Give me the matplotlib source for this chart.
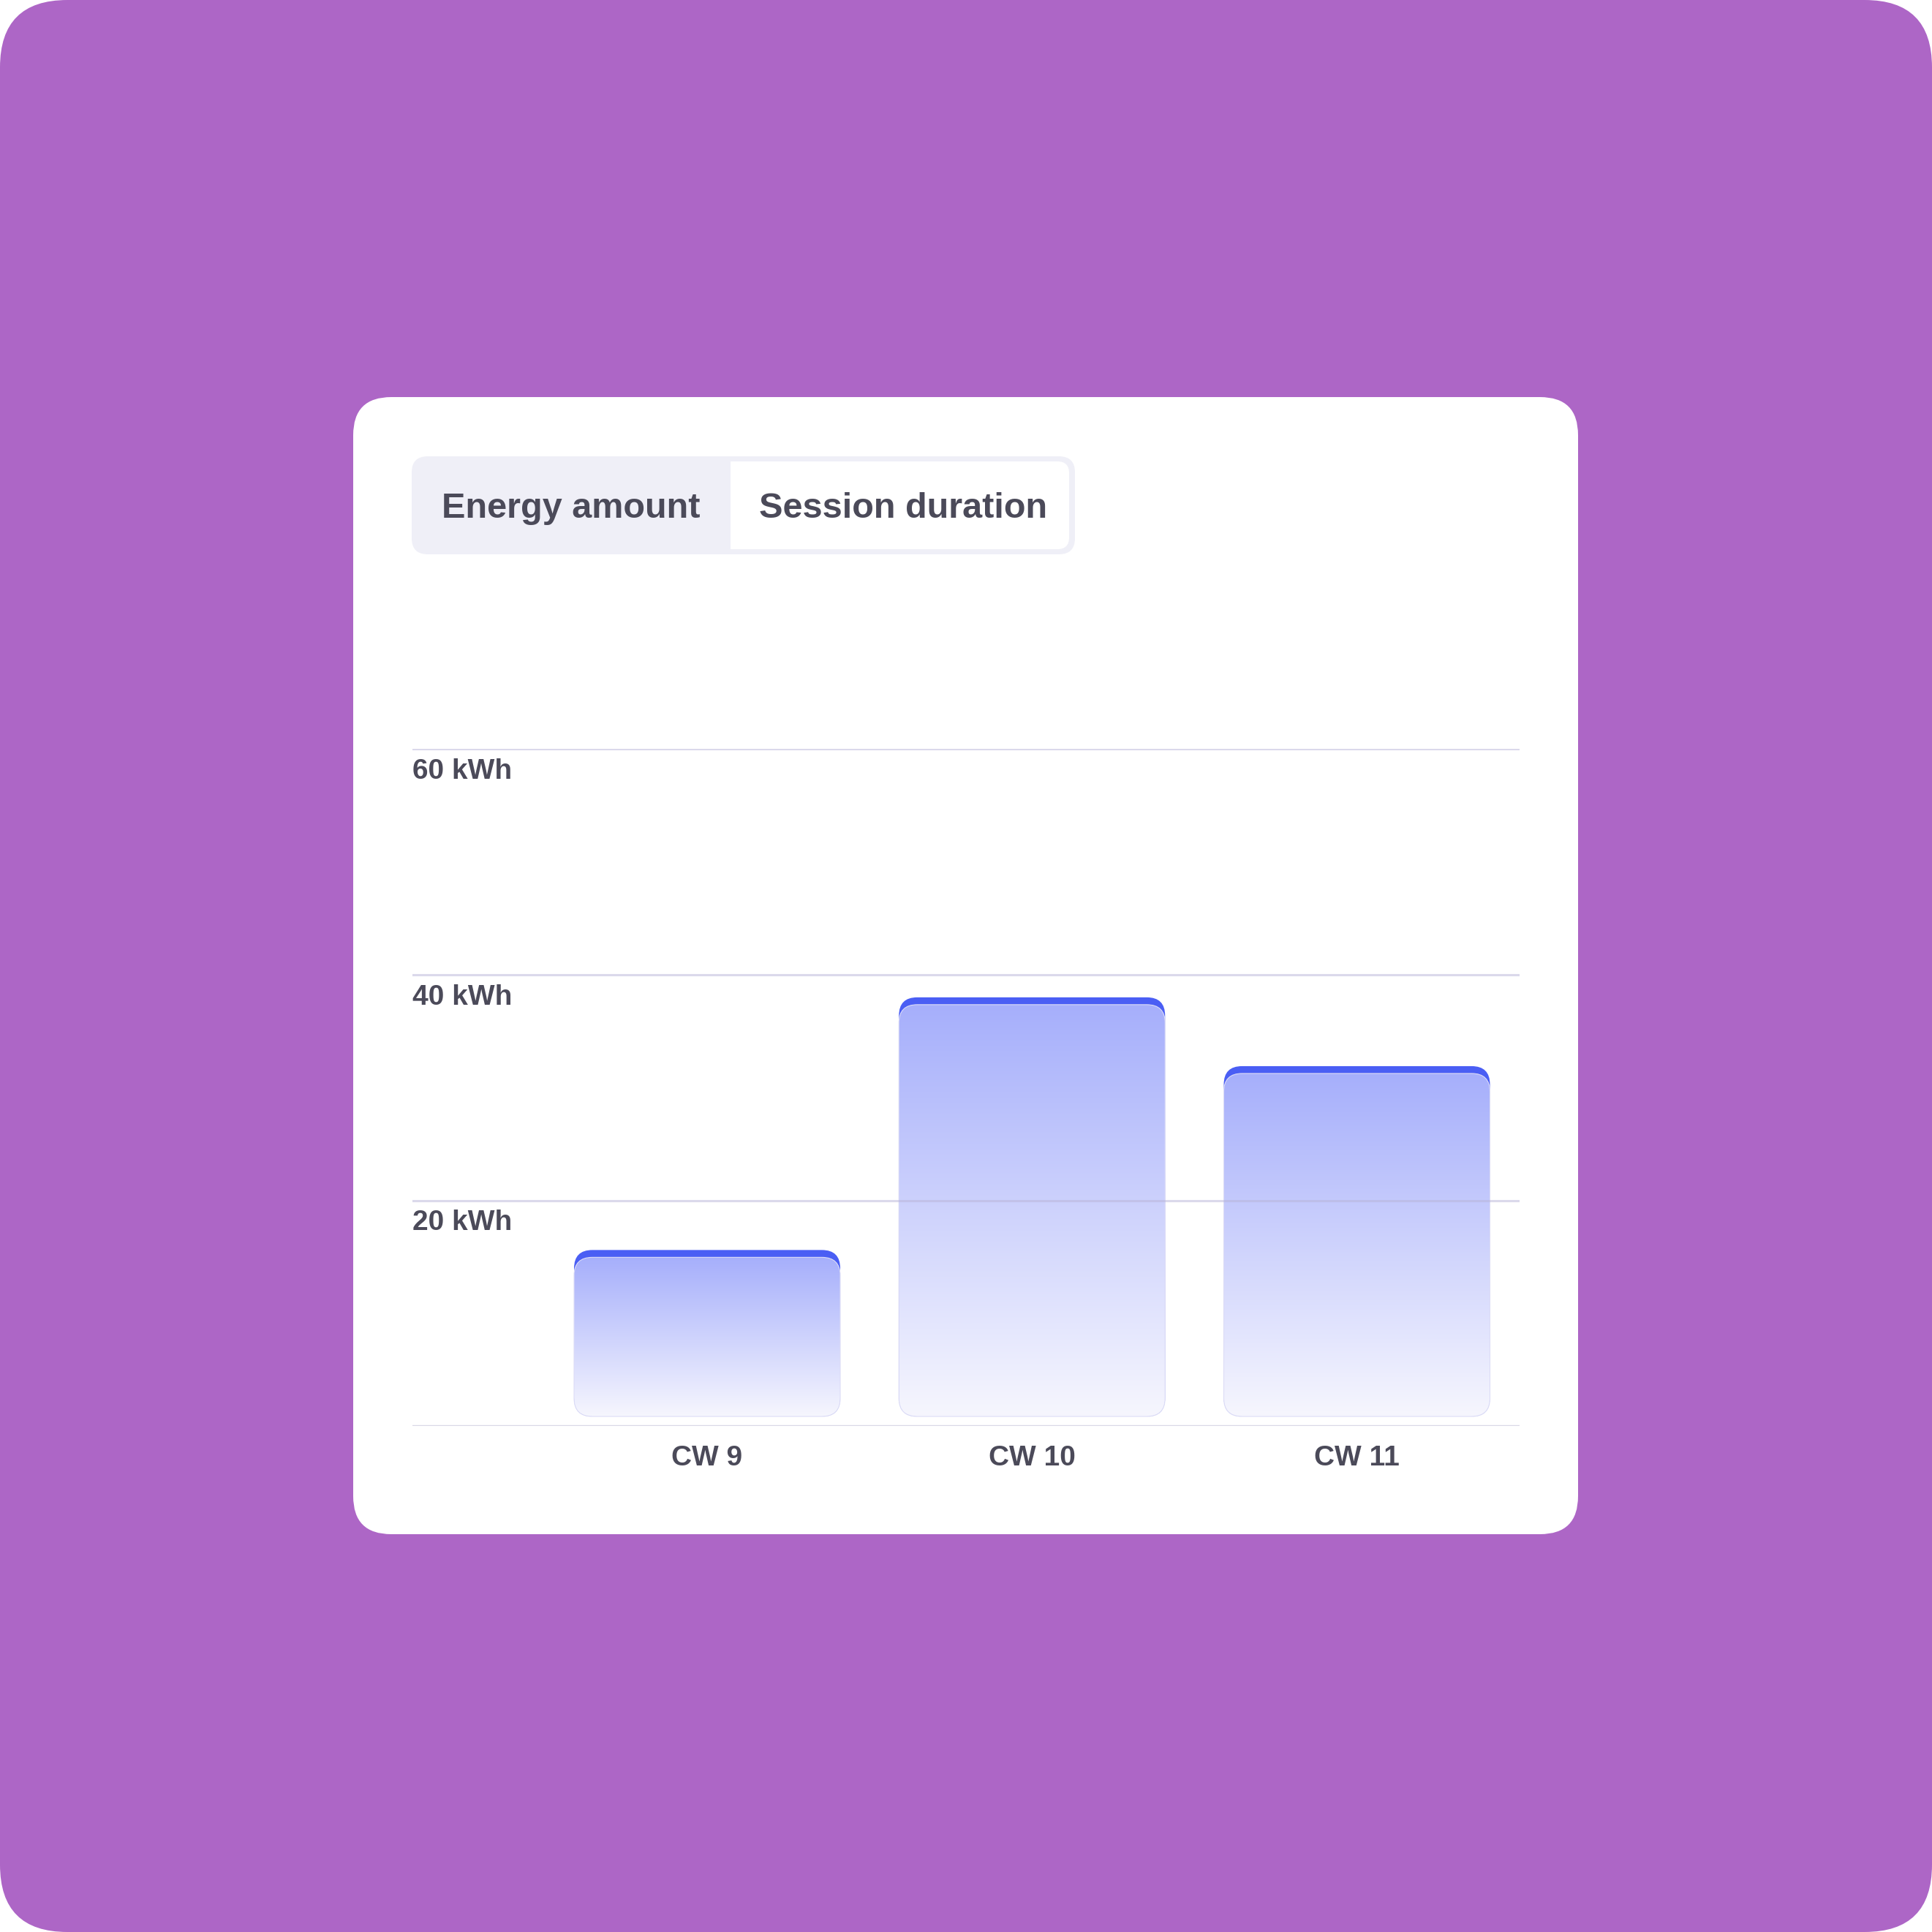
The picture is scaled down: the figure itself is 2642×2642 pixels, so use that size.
import numpy as np
import matplotlib.pyplot as plt
from matplotlib.patches import FancyBboxPatch, Rectangle
from matplotlib.colors import LinearSegmentedColormap

# data
weeks = ['CW 9', 'CW 10', 'CW 11']
energy_kwh = [15.6, 38.0, 31.9]
y_ticks = [20, 40, 60]
y_tick_labels = ['20 kWh', '40 kWh', '60 kWh']
tabs = ['Energy amount', 'Session duration']

plt.rcParams['font.family'] = ['Liberation Sans', 'DejaVu Sans']

W = 2642
DPI = 100
txt = '#4b4a59'

fig = plt.figure(figsize=(W / DPI, W / DPI), dpi=DPI)
fig.patch.set_facecolor('white')

# background / card / toggle in pixel coords
bg = fig.add_axes([0, 0, 1, 1])
bg.set_xlim(0, W)
bg.set_ylim(W, 0)
bg.axis('off')

bg.add_patch(FancyBboxPatch((0, 0), W, W, boxstyle='round,pad=0,rounding_size=92',
                            fc='#ad66c6', ec='none'))
bg.add_patch(FancyBboxPatch((483, 543), 1675, 1555, boxstyle='round,pad=0,rounding_size=52',
                            fc='white', ec='none'))
bg.add_patch(FancyBboxPatch((563, 624), 907, 134, boxstyle='round,pad=0,rounding_size=22',
                            fc='#efeff7', ec='none'))
bg.add_patch(FancyBboxPatch((999, 631), 463, 120, boxstyle='round,pad=0,rounding_size=16',
                            fc='white', ec='none'))
bg.add_patch(Rectangle((999, 631), 40, 120, fc='white', ec='none'))

bg.text(781, 708, tabs[0], ha='center', va='baseline', fontsize=35,
        fontweight='bold', color=txt)
bg.text(1235, 708, tabs[1], ha='center', va='baseline', fontsize=35,
        fontweight='bold', color=txt)

# chart axes
x_left, x_right = 564, 2078
y_base, y_top = 1950, 1024.5
ax = fig.add_axes([x_left / W, (W - y_base) / W, (x_right - x_left) / W, (y_base - y_top) / W])
ax.axis('off')

px_x = 444.25                      # pixels per category step
px_y = (y_base - y_top) / 60.0     # pixels per kWh
first_c = 403                      # first bar centre from axes left (px)

bar_w = 364 / px_x
r_x = 25 / px_x
aspect = px_x / px_y
gap = 13 / px_y
cap = 10 / px_y

cmap = LinearSegmentedColormap.from_list('bar', ['#f6f6fe', '#a6affb'])
grad = np.linspace(0, 1, 256).reshape(-1, 1)

for i, v in enumerate(energy_kwh):
    x0 = i - bar_w / 2
    blue = FancyBboxPatch((x0, gap), bar_w, v - gap,
                          boxstyle=f'round,pad=0,rounding_size={r_x}',
                          mutation_aspect=aspect, fc='#4a5ef4', ec='none', zorder=2)
    ax.add_patch(blue)
    body = FancyBboxPatch((x0, gap), bar_w, v - cap - gap,
                          boxstyle=f'round,pad=0,rounding_size={r_x}',
                          mutation_aspect=aspect, fc='none', ec='#dcdcf6', lw=0.8, zorder=4)
    ax.add_patch(body)
    im = ax.imshow(grad, extent=[x0, x0 + bar_w, gap, v - cap], origin='lower',
                   aspect='auto', cmap=cmap, zorder=3, interpolation='bilinear')
    im.set_clip_path(body)

ax.axhline(0, color='#d9d8e6', lw=2.4, zorder=5)
for v in y_ticks:
    ax.axhline(v, color='#b9b5d8', alpha=0.5, lw=2.2, zorder=5)

for v, lab in zip(y_ticks, y_tick_labels):
    ax.annotate(lab, (0, v), xycoords=ax.get_yaxis_transform(),
                xytext=(0, -41 * 0.72), textcoords='offset points',
                ha='left', va='baseline', fontsize=28, fontweight='bold', color=txt)

for i, lab in enumerate(weeks):
    ax.annotate(lab, (i, 0), xytext=(0, -54 * 0.72), textcoords='offset points',
                ha='center', va='baseline', fontsize=28, fontweight='bold', color=txt)

ax.set_xlim(-first_c / px_x, (x_right - x_left - first_c) / px_x)
ax.set_ylim(0, 60)

fig.savefig('out.png', dpi=DPI, facecolor='white')
